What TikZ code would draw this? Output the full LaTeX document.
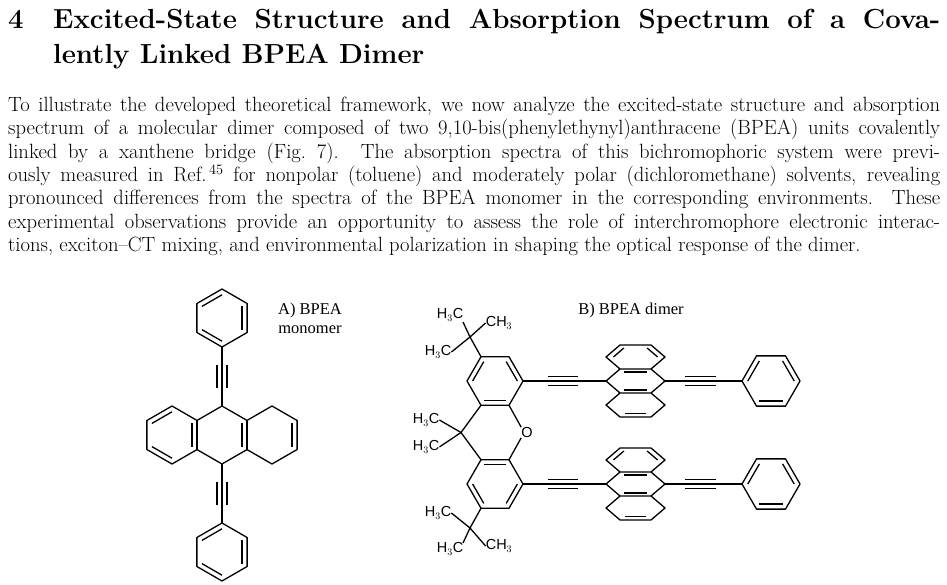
\documentclass[tikz,border=0pt]{standalone}
\usepackage{fontspec}
\newfontfamily\chemf{Liberation Sans}
\newfontfamily\labf{Liberation Serif}
\usetikzlibrary{calc}
\newcommand\hexa[4]{%
  \coordinate (#1c) at #2;
  \foreach \i in {1,...,6} {\coordinate (#1\i) at ($(#1c)+({#4+60*(\i-1)}:#3)$);}
  \draw[bond] (#11)--(#12)--(#13)--(#14)--(#15)--(#16)--cycle;}
\newcommand\dbl[3]{\draw[bond] ($(#1)!0.2!(#3)$) -- ($(#2)!0.2!(#3)$);}
\begin{document}
\begin{tikzpicture}[x=1pt,y=-1pt,bond/.style={line width=1.3pt,line join=round},
  chem/.style={font=\chemf\fontsize{14.5}{14.5}\selectfont,inner sep=0pt},
  lab/.style={font=\labf\fontsize{16.5}{19}\selectfont,inner sep=0pt,align=center}]
\useasboundingbox (0,0) rectangle (947,585);
% heading
\node[anchor=base west,inner sep=0pt,font=\fontsize{27.6}{34.5}\bfseries\selectfont] (num) at (8,29) {4};
\node[anchor=north west,inner sep=0pt,text width=887pt,align=justify,font=\fontsize{27.6}{35}\bfseries\selectfont] (title) at (53,9)
 {Excited-State Structure and Absorption Spectrum of a Cova-\linebreak lently Linked BPEA Dimer};
\node[anchor=north west,inner sep=0pt,text width=932pt,align=justify,font=\fontsize{20.6}{23.3}\selectfont] (para) at (8,97)
 {\parfillskip=10pt To illustrate the developed theoretical framework, we now analyze the excited-state structure and absorption\linebreak
 spectrum of a molecular dimer composed of two 9,10-bis(phenylethynyl)anthracene (BPEA) units covalently\linebreak
 linked by a xanthene bridge (Fig.~7). The absorption spectra of this bichromophoric system were previ-\linebreak
 ously measured in Ref.$^{\,45}$ for nonpolar (toluene) and moderately polar (dichloromethane) solvents, revealing\linebreak
 pronounced differences from the spectra of the BPEA monomer in the corresponding environments. These\linebreak
 experimental observations provide an opportunity to assess the role of interchromophore electronic interac-\linebreak
 tions, exciton--CT mixing, and environmental polarization in shaping the optical response of the dimer.};
% ---------- monomer ----------
\hexa{T}{(222,318)}{29}{90}
\dbl{T3}{T4}{Tc}\dbl{T5}{T6}{Tc}\dbl{T1}{T2}{Tc}
\hexa{M}{(222,435)}{29}{90}
\dbl{M5}{M6}{Mc}
\hexa{L}{(172,435)}{29}{90}
\dbl{L3}{L4}{Lc}\dbl{L1}{L2}{Lc}\dbl{L5}{L6}{Lc}
\hexa{R}{(272,435)}{29}{90}
\dbl{R5}{R6}{Rc}
\hexa{B}{(222,552)}{29}{90}
\dbl{B3}{B4}{Bc}\dbl{B5}{B6}{Bc}\dbl{B1}{B2}{Bc}
\draw[bond] (T1) -- (M4);
\draw[bond] ([xshift=-5pt]$(T1)!0.3!(M4)$) -- ([xshift=-5pt]$(T1)!0.7!(M4)$);
\draw[bond] ([xshift=5pt]$(T1)!0.3!(M4)$) -- ([xshift=5pt]$(T1)!0.7!(M4)$);
\draw[bond] (M1) -- (B4);
\draw[bond] ([xshift=-5pt]$(M1)!0.3!(B4)$) -- ([xshift=-5pt]$(M1)!0.7!(B4)$);
\draw[bond] ([xshift=5pt]$(M1)!0.3!(B4)$) -- ([xshift=5pt]$(M1)!0.7!(B4)$);
\node[lab,anchor=north] (labA) at (310,303) {A) BPEA\\monomer};
% ---------- dimer ----------
\node[lab,anchor=center] (labB) at (631,311) {B) BPEA dimer};
\hexa{X}{(495,381)}{28}{0}
\dbl{X4}{X5}{Xc}\dbl{X6}{X1}{Xc}\dbl{X2}{X3}{Xc}
\hexa{Y}{(495,484)}{28}{0}
\dbl{Y3}{Y4}{Yc}\dbl{Y1}{Y2}{Yc}\dbl{Y5}{Y6}{Yc}
\coordinate (Cq) at (461,432.5);
\node[chem] (O) at (527,432.5) {O};
\draw[bond] (X3) -- (Cq) -- (Y5);
\draw[bond] (X2) -- (O.north west);
\draw[bond] (Y6) -- (O.south west);
\node[chem] (m1) at (426,420) {H$_3$C};
\node[chem] (m2) at (426,447) {H$_3$C};
\draw[bond] (Cq) -- (m1.east);
\draw[bond] (Cq) -- (m2.east);
% tBu top
\coordinate (tq1) at (470,337);
\node[chem] (t1a) at (450,315) {H$_3$C};
\node[chem] (t1b) at (499,323) {CH$_3$};
\node[chem] (t1c) at (438,352) {H$_3$C};
\draw[bond] (X5) -- (tq1);
\draw[bond] (tq1) -- (463,322);
\draw[bond] (tq1) -- (t1b.west);
\draw[bond] (tq1) -- (t1c.east);
% tBu bottom
\coordinate (tq2) at (470,528);
\node[chem] (t2a) at (438,513) {H$_3$C};
\node[chem] (t2b) at (450,549) {H$_3$C};
\node[chem] (t2c) at (499,546) {CH$_3$};
\draw[bond] (Y3) -- (tq2);
\draw[bond] (tq2) -- (t2a.east);
\draw[bond] (tq2) -- (463,543);
\draw[bond] (tq2) -- (t2c.west);
% arms
\foreach \n/\yy/\vv in {U/381/X1, D/484/Y1} {
  \coordinate (\n a1) at (606,\yy);  \coordinate (\n a2) at (620,\yy-12);
  \coordinate (\n a3) at (651,\yy-12); \coordinate (\n a4) at (665,\yy);
  \coordinate (\n a5) at (651,\yy+12); \coordinate (\n a6) at (620,\yy+12);
  \coordinate (\n t1) at (606,\yy-24); \coordinate (\n t2) at (620,\yy-36);
  \coordinate (\n t3) at (651,\yy-36); \coordinate (\n t4) at (665,\yy-24);
  \coordinate (\n b1) at (606,\yy+24); \coordinate (\n b2) at (620,\yy+36);
  \coordinate (\n b3) at (651,\yy+36); \coordinate (\n b4) at (665,\yy+24);
  \coordinate (\n tc) at (635.5,\yy-24); \coordinate (\n bc) at (635.5,\yy+24);
  \coordinate (\n ac) at (635.5,\yy);
  \draw[bond] (\n a1)--(\n a2)--(\n a3)--(\n a4)--(\n a5)--(\n a6)--cycle;
  \draw[bond] (\n a2)--(\n t1)--(\n t2)--(\n t3)--(\n t4)--(\n a3);
  \draw[bond] (\n a6)--(\n b1)--(\n b2)--(\n b3)--(\n b4)--(\n a5);
  \draw[bond] ($(\n t1)!0.25!(\n tc)$)--($(\n t2)!0.25!(\n tc)$);
  \draw[bond] ($(\n t3)!0.25!(\n tc)$)--($(\n t4)!0.25!(\n tc)$);
  \draw[bond] ($(\n a2)!0.25!(\n ac)$)--($(\n a3)!0.25!(\n ac)$);
  \draw[bond] ($(\n a6)!0.25!(\n ac)$)--($(\n a5)!0.25!(\n ac)$);
  \draw[bond] ($(\n b2)!0.3!(\n bc)$)--($(\n b3)!0.3!(\n bc)$);
  \draw[bond] (\vv) -- (\n a1);
  \draw[bond] (548,\yy-4.5) -- (578,\yy-4.5);
  \draw[bond] (548,\yy+4.5) -- (578,\yy+4.5);
  \draw[bond] (685,\yy-4.5) -- (716,\yy-4.5);
  \draw[bond] (685,\yy+4.5) -- (716,\yy+4.5);
}
\hexa{P}{(771,381)}{29}{0}
\dbl{P4}{P5}{Pc}\dbl{P6}{P1}{Pc}\dbl{P2}{P3}{Pc}
\hexa{Q}{(771,484)}{29}{0}
\dbl{Q4}{Q5}{Qc}\dbl{Q6}{Q1}{Qc}\dbl{Q2}{Q3}{Qc}
\draw[bond] (Ua4) -- (P4);
\draw[bond] (Da4) -- (Q4);
\end{tikzpicture}
\end{document}
